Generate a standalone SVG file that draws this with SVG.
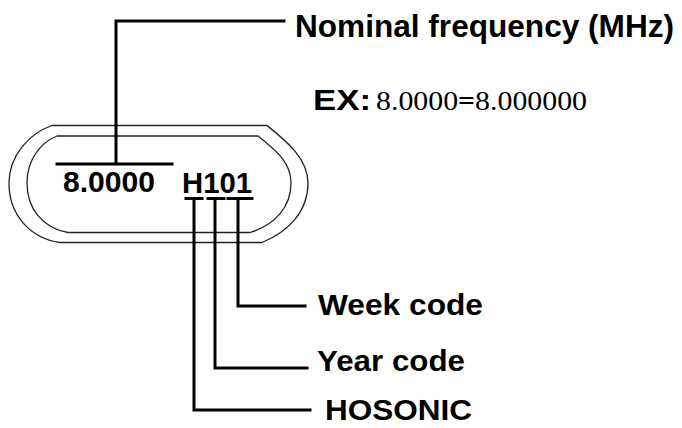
<svg xmlns="http://www.w3.org/2000/svg" width="682" height="428" viewBox="0 0 682 428">
<style>
.lbl{font-family:"Liberation Sans",Arial,sans-serif;font-weight:bold;fill:#000}
.serif{font-family:"Liberation Serif","Times New Roman",serif;fill:#000}
.case{fill:none;stroke:#222;stroke-width:1.3}
.lead{fill:none;stroke:#000;stroke-width:3;stroke-linecap:square}
</style>
<rect width="682" height="428" fill="#fff"/>
<g id="package">
<path class="case" d="M52,125.5 H267 C285,140 308,158 308,183 C308,212 288,232 262,242.5 H60 C30,238 9,215 9,183 C9,155 30,133 52,125.5 Z"/>
<path class="case" d="M57,136 H258 C272,148 291,160 291,183 C291,207 275,225 250,232.5 H68 C42,228 27,208 27,183 C27,160 40,143 57,136 Z"/>
</g>
<g id="marking">
<text class="lbl" x="63" y="192" font-size="29" textLength="92" lengthAdjust="spacingAndGlyphs">8.0000</text>
<text class="lbl" x="182" y="193" font-size="29" textLength="70" lengthAdjust="spacingAndGlyphs">H101</text>
</g>
<g id="connectors">
<path class="lead" d="M57,164 H172 M116,164 V21 H284"/>
<path class="lead" d="M186,198.5 H202 M194,198.5 V410 H310"/>
<path class="lead" d="M208,198.5 H224 M215,198.5 V368 H307"/>
<path class="lead" d="M228,198.5 H252 M238,198.5 V306 H305"/>
</g>
<g id="label-nominal">
<text class="lbl" x="295" y="37" font-size="32" textLength="379" lengthAdjust="spacingAndGlyphs">Nominal frequency (MHz)</text>
</g>
<g id="label-example">
<text class="lbl" x="313" y="110" font-size="29" textLength="58" lengthAdjust="spacingAndGlyphs">EX:</text>
<text class="serif" x="376" y="110" font-size="28" textLength="211" lengthAdjust="spacingAndGlyphs">8.0000<tspan font-weight="bold">=</tspan>8.000000</text>
</g>
<g id="label-week">
<text class="lbl" x="318" y="315" font-size="29" textLength="165" lengthAdjust="spacingAndGlyphs">Week code</text>
</g>
<g id="label-year">
<text class="lbl" x="317" y="371" font-size="29" textLength="148" lengthAdjust="spacingAndGlyphs">Year code</text>
</g>
<g id="label-hosonic">
<text class="lbl" x="325" y="420" font-size="29" textLength="147" lengthAdjust="spacingAndGlyphs">HOSONIC</text>
</g>
</svg>
